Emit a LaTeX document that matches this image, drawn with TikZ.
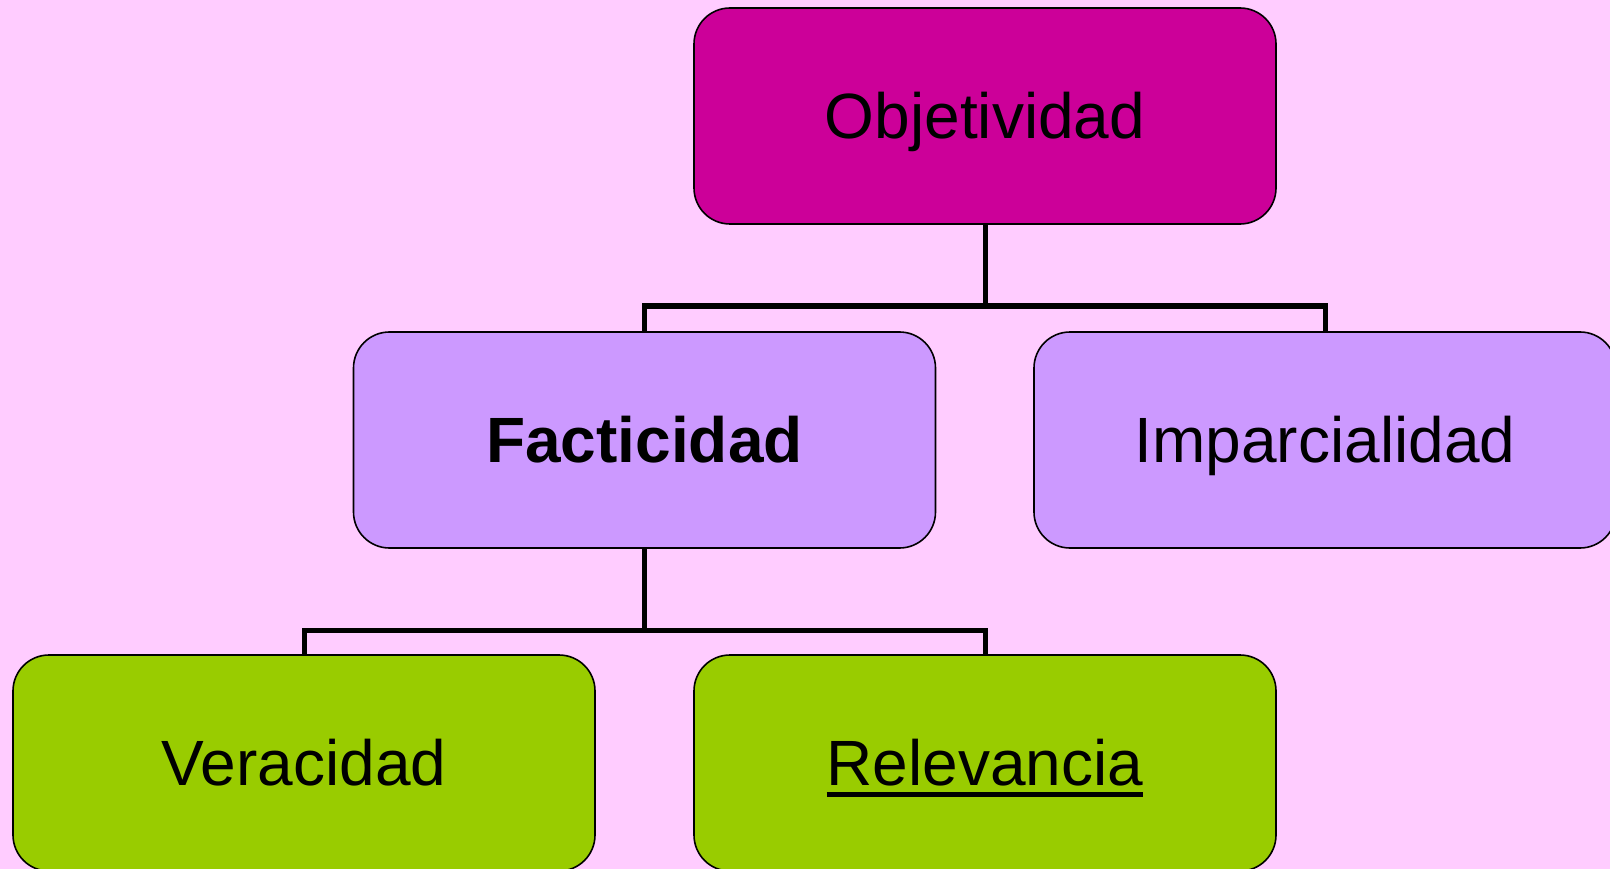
\documentclass[tikz,border=0pt]{standalone}
\usepackage{fontspec}
\setmainfont{Liberation Sans}
\definecolor{pagebg}{HTML}{FFCCFF}
\definecolor{rootfill}{HTML}{CC0099}
\definecolor{midfill}{HTML}{CC99FF}
\definecolor{leaffill}{HTML}{99CC00}
\newcommand{\ulword}[1]{\setbox0=\hbox{#1}\rlap{\rule[-11pt]{\wd0}{4.5pt}}\box0}
\begin{document}
\begin{tikzpicture}[
			x=1pt, y=-1pt,
			box/.style={draw, line width=1.6pt, rounded corners=36pt,
				minimum width=582pt, minimum height=216pt, inner sep=0pt,
				text height=45pt, text depth=0pt,
				font=\fontsize{64}{70}\selectfont},
			link/.style={line width=5pt}
		]
		\fill[pagebg] (0,0) rectangle (1610,869);
		\useasboundingbox (0,0) rectangle (1610,869);
		\clip (0,0) rectangle (1610,869);
		\node[box, fill=rootfill] (obj) at (985,116) {Objetividad};
		\node[box, fill=midfill] (fact) at (644.5,440) {\bfseries Facticidad};
		\node[box, fill=midfill] (imp) at (1325,440) {Imparcialidad};
		\node[box, fill=leaffill] (ver) at (304,763) {Veracidad};
		\node[box, fill=leaffill] (rel) at (985,763) {\ulword{Relevancia}};
		% first level
		\coordinate (fork1) at (985,306);
		\draw[link] (obj.south) -- (fork1);
		\draw[link] (fork1) -| (fact.north);
		\draw[link] (fork1) -| (imp.north);
		% second level
		\coordinate (fork2) at (644.5,630);
		\draw[link] (fact.south) -- (fork2);
		\draw[link] (fork2) -| (ver.north);
		\draw[link] (fork2) -| (rel.north);
	\end{tikzpicture}
\end{document}
